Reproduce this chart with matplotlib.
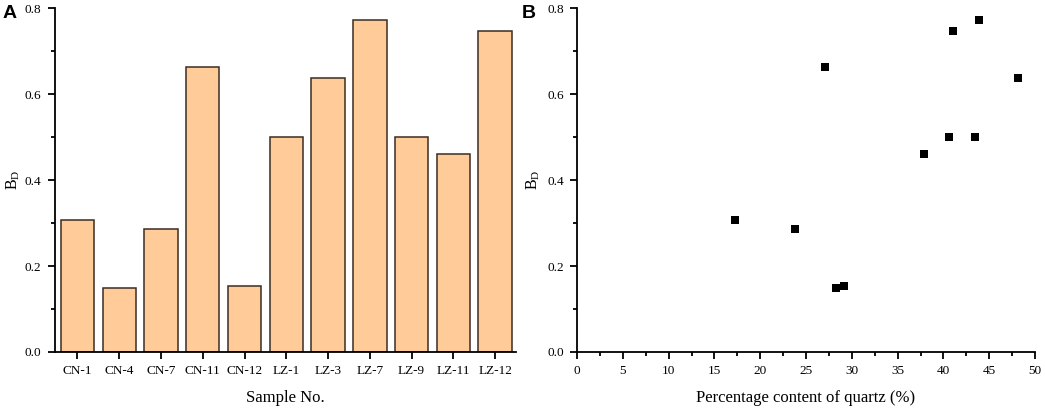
import matplotlib
matplotlib.use("Agg")
import matplotlib.pyplot as plt
from matplotlib.ticker import MultipleLocator

samples = ["CN-1", "CN-4", "CN-7", "CN-11", "CN-12", "LZ-1", "LZ-3", "LZ-7", "LZ-9", "LZ-11", "LZ-12"]
bd = [0.307, 0.150, 0.286, 0.663, 0.154, 0.500, 0.638, 0.773, 0.500, 0.461, 0.746]
quartz = [17.2, 28.3, 23.8, 27.1, 29.1, 40.6, 48.1, 43.9, 43.4, 37.9, 41.1]

plt.rcParams['font.family'] = ['Liberation Serif', 'DejaVu Serif']
plt.rcParams['mathtext.fontset'] = 'custom'
plt.rcParams['mathtext.rm'] = 'Liberation Serif'
plt.rcParams['mathtext.it'] = 'Liberation Serif:italic'

fig = plt.figure(figsize=(10.45, 4.09), dpi=100)
W, H = 1045, 409
axA = fig.add_axes([54.5 / W, (H - 352) / H, (516 - 54.5) / W, (352 - 8.3) / H])
axB = fig.add_axes([577 / W, (H - 352) / H, (1035 - 577) / W, (352 - 8.3) / H])

def style(ax, lx):
    for s in ("top", "right"):
        ax.spines[s].set_visible(False)
    for s in ("left", "bottom"):
        ax.spines[s].set_linewidth(1.3)
    ax.tick_params(which="major", direction="out", length=5, width=1.3, labelsize=9.5, colors="black", pad=4.5)
    ax.tick_params(which="minor", direction="out", length=3, width=1.3)
    ax.set_ylim(0, 0.8)
    ax.yaxis.set_major_locator(MultipleLocator(0.2))
    ax.yaxis.set_minor_locator(MultipleLocator(0.1))
    ax.set_ylabel("B$_\\mathrm{D}$", fontsize=11.5)
    ax.yaxis.set_label_coords(lx, 0.5)

x = list(range(len(samples)))
axA.bar(x, bd, width=0.8, color="#FFCC99", edgecolor="#3b2c22", linewidth=1.1)
axA.set_xticks(x)
axA.set_xticklabels(samples)
axA.set_xlim(-0.55, 10.5)
style(axA, -0.070)
axA.set_xlabel("Sample No.", fontsize=12, labelpad=9)

axB.scatter(quartz, bd, marker="s", s=26, color="black", zorder=3, linewidths=0)
axB.set_xlim(0, 50)
axB.xaxis.set_major_locator(MultipleLocator(5))
axB.xaxis.set_minor_locator(MultipleLocator(2.5))
style(axB, -0.0765)
axB.set_xlabel("Percentage content of quartz (%)", fontsize=12, labelpad=9)

fig.text(3 / W, 1 - 18 / H, "A", family="Liberation Sans", fontweight="bold", fontsize=14)
fig.text(522 / W, 1 - 18 / H, "B", family="Liberation Sans", fontweight="bold", fontsize=14)

fig.savefig("out.png", dpi=100)
